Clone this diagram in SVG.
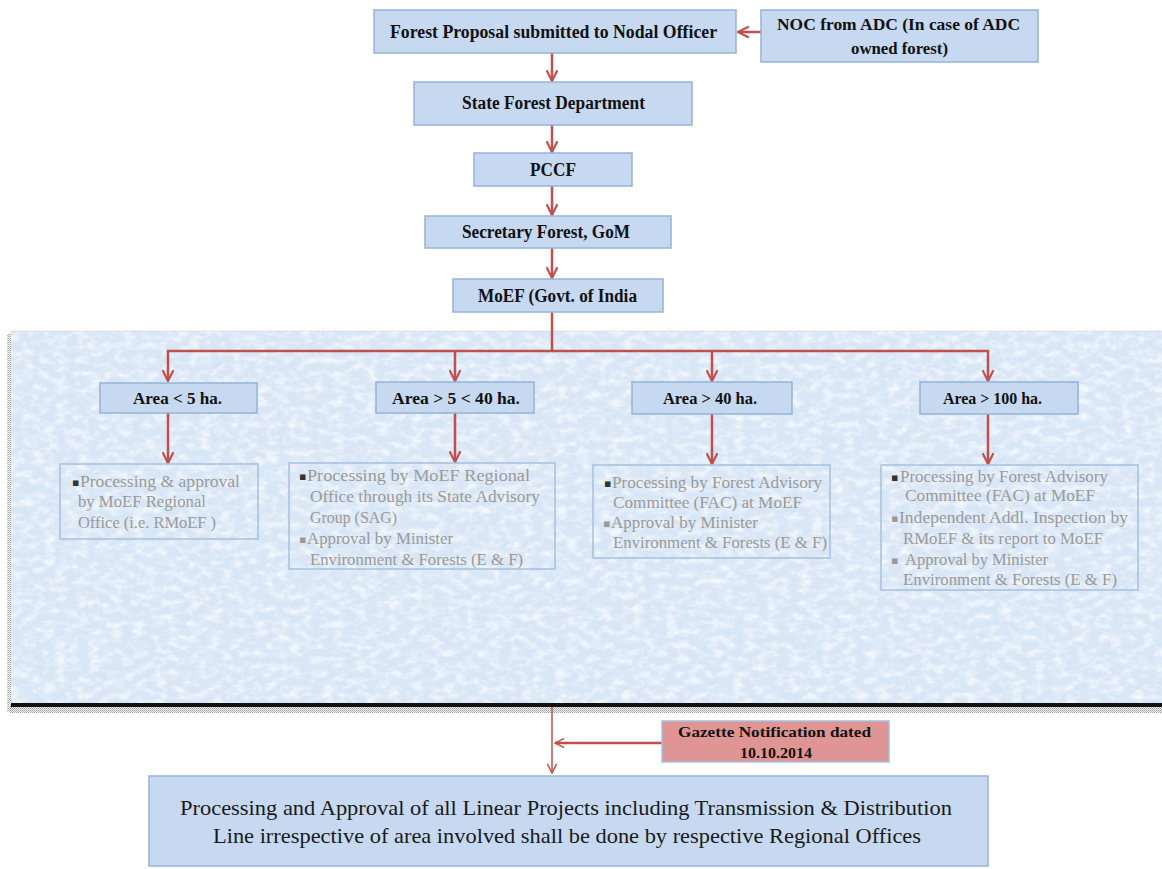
<svg xmlns="http://www.w3.org/2000/svg" width="1162" height="869" viewBox="0 0 1162 869">
<style>
.box{fill:#c6d9f1;stroke:#95b3d7;stroke-width:1.5}
.cbox{fill:none;stroke:#a7c0de;stroke-width:1.5}
.hd{font-family:"Liberation Serif","Times New Roman",serif;font-weight:bold;fill:#111;text-anchor:start}
.ct{font-family:"Liberation Serif","Times New Roman",serif;font-size:17px;fill:#9a9a9a}
.bl{font-family:"DejaVu Sans",sans-serif;font-size:11px;fill:#9a9a9a}
.bl1{fill:#333}
.ln{fill:none;stroke:#c0504d;stroke-width:2.5}
.lnt{fill:none;stroke:#c0504d;stroke-width:1.5}
.ft{font-family:"Liberation Serif","Times New Roman",serif;font-size:21px;fill:#1a1a1a}
</style>
<defs>
<marker id="ah" viewBox="0 0 12 12" refX="11" refY="6" markerWidth="13" markerHeight="13" orient="auto" markerUnits="userSpaceOnUse">
<path d="M1,1 L11,6 L1,11" fill="none" stroke="#c0504d" stroke-width="2"/>
</marker>
<marker id="ahs" viewBox="0 0 12 12" refX="11" refY="6" markerWidth="11" markerHeight="11" orient="auto" markerUnits="userSpaceOnUse">
<path d="M1,1 L11,6 L1,11" fill="none" stroke="#c0504d" stroke-width="1.6"/>
</marker>
<filter id="tex" x="0" y="0" width="100%" height="100%">
<feTurbulence type="fractalNoise" baseFrequency="0.09 0.14" numOctaves="3" seed="11"/>
<feColorMatrix type="matrix" values="0 0 0 0 1  0 0 0 0 1  0 0 0 0 1  2.2 0 0 0 -0.9"/>
</filter>
<pattern id="dots" width="2" height="2" patternUnits="userSpaceOnUse">
<rect width="1" height="1" fill="#777"/><rect x="1" y="1" width="1" height="1" fill="#999"/>
</pattern>
</defs>
<rect width="1162" height="869" fill="#ffffff"/>

<g id="panel">
<rect x="7" y="334" width="5" height="378" fill="url(#dots)" opacity="0.7"/>
<rect x="10" y="706" width="1152" height="7" fill="url(#dots)" opacity="0.8"/>
<rect x="11" y="331" width="1151" height="373" fill="#d8e6f6"/>
<rect x="11" y="331" width="1151" height="373" fill="#fff" filter="url(#tex)" opacity="0.75"/>
<line x1="11" y1="331" x2="1162" y2="331" stroke="#c9d3de" stroke-width="1" stroke-dasharray="1 1"/>
<line x1="11" y1="705" x2="1162" y2="705" stroke="#111" stroke-width="4"/>
</g>

<g id="connectors">
<line class="ln" x1="761" y1="32" x2="738" y2="32" marker-end="url(#ah)"/>
<line class="ln" x1="552" y1="53" x2="552" y2="81" marker-end="url(#ah)"/>
<line class="ln" x1="552" y1="125" x2="552" y2="152" marker-end="url(#ah)"/>
<line class="ln" x1="552" y1="186" x2="552" y2="215" marker-end="url(#ah)"/>
<line class="ln" x1="552" y1="248" x2="552" y2="278" marker-end="url(#ah)"/>
<polyline class="ln" points="552,312 552,351 168,351 168,381" marker-end="url(#ah)"/>
<polyline class="ln" points="552,351 988,351 988,381" marker-end="url(#ah)"/>
<line class="ln" x1="455" y1="351" x2="455" y2="381" marker-end="url(#ah)"/>
<line class="ln" x1="712" y1="351" x2="712" y2="381" marker-end="url(#ah)"/>
<line class="ln" x1="168" y1="413" x2="168" y2="463" marker-end="url(#ah)"/>
<line class="ln" x1="455" y1="413" x2="455" y2="462" marker-end="url(#ah)"/>
<line class="ln" x1="712" y1="414" x2="712" y2="464" marker-end="url(#ah)"/>
<line class="ln" x1="988" y1="414" x2="988" y2="464" marker-end="url(#ah)"/>
<line class="lnt" x1="552" y1="707" x2="552" y2="773" marker-end="url(#ahs)"/>
<line class="ln" x1="662" y1="743" x2="555" y2="743" marker-end="url(#ahs)"/>
</g>

<g id="n-forest-proposal">
<rect class="box" x="374" y="10" width="362" height="43"/>
<text class="hd" x="390" y="38" font-size="18" textLength="327" lengthAdjust="spacingAndGlyphs">Forest Proposal submitted  to Nodal Officer</text>
</g>
<g id="n-noc">
<rect class="box" x="761" y="10" width="277" height="52"/>
<text class="hd" x="777" y="30" font-size="17" textLength="243" lengthAdjust="spacingAndGlyphs">NOC from ADC  (In case of ADC</text>
<text class="hd" x="851" y="54" font-size="17" textLength="97" lengthAdjust="spacingAndGlyphs">owned forest)</text>
</g>
<g id="n-state">
<rect class="box" x="414" y="82" width="278" height="43"/>
<text class="hd" x="462" y="109" font-size="18" textLength="183" lengthAdjust="spacingAndGlyphs">State Forest Department</text>
</g>
<g id="n-pccf">
<rect class="box" x="474" y="153" width="158" height="33"/>
<text class="hd" x="530" y="176" font-size="18" textLength="46" lengthAdjust="spacingAndGlyphs">PCCF</text>
</g>
<g id="n-secretary">
<rect class="box" x="425" y="216" width="246" height="32"/>
<text class="hd" x="462" y="238" font-size="18" textLength="168" lengthAdjust="spacingAndGlyphs">Secretary Forest, GoM</text>
</g>
<g id="n-moef">
<rect class="box" x="453" y="279" width="210" height="33"/>
<text class="hd" x="478" y="302" font-size="18" textLength="159" lengthAdjust="spacingAndGlyphs">MoEF (Govt. of India</text>
</g>

<g id="n-area1">
<rect class="box" x="100" y="383" width="157" height="30"/>
<text class="hd" x="133" y="404" font-size="16" textLength="89" lengthAdjust="spacingAndGlyphs">Area &lt; 5 ha.</text>
</g>
<g id="n-area2">
<rect class="box" x="376" y="382" width="158" height="31"/>
<text class="hd" x="392" y="404" font-size="16" textLength="128" lengthAdjust="spacingAndGlyphs">Area &gt; 5 &lt; 40 ha.</text>
</g>
<g id="n-area3">
<rect class="box" x="632" y="382" width="160" height="32"/>
<text class="hd" x="663" y="404" font-size="16" textLength="94" lengthAdjust="spacingAndGlyphs">Area &gt; 40 ha.</text>
</g>
<g id="n-area4">
<rect class="box" x="920" y="382" width="158" height="32"/>
<text class="hd" x="943" y="404" font-size="16" textLength="99" lengthAdjust="spacingAndGlyphs">Area &gt; 100 ha.</text>
</g>

<g id="n-content1">
<rect class="cbox" x="60" y="464" width="198" height="75"/>
<text class="bl bl1" x="72" y="486">▪</text>
<text class="ct" x="80" y="487" textLength="160" lengthAdjust="spacingAndGlyphs">Processing  &amp; approval</text>
<text class="ct" x="78" y="507" textLength="128" lengthAdjust="spacingAndGlyphs">by MoEF Regional</text>
<text class="ct" x="78" y="528" textLength="138" lengthAdjust="spacingAndGlyphs">Office (i.e. RMoEF )</text>
</g>
<g id="n-content2">
<rect class="cbox" x="289" y="463" width="266" height="106"/>
<text class="bl bl1" x="299" y="480">▪</text>
<text class="ct" x="307" y="481" textLength="223" lengthAdjust="spacingAndGlyphs">Processing  by MoEF  Regional</text>
<text class="ct" x="310" y="502" textLength="230" lengthAdjust="spacingAndGlyphs">Office  through  its State Advisory</text>
<text class="ct" x="310" y="523" textLength="87" lengthAdjust="spacingAndGlyphs">Group (SAG)</text>
<text class="bl" x="299" y="543">▪</text>
<text class="ct" x="307" y="544" textLength="146" lengthAdjust="spacingAndGlyphs">Approval by Minister</text>
<text class="ct" x="310" y="565" textLength="213" lengthAdjust="spacingAndGlyphs">Environment &amp; Forests (E &amp; F)</text>
</g>
<g id="n-content3">
<rect class="cbox" x="593" y="465" width="237" height="93"/>
<text class="bl bl1" x="604" y="487">▪</text>
<text class="ct" x="612" y="488" textLength="210" lengthAdjust="spacingAndGlyphs">Processing  by Forest Advisory</text>
<text class="ct" x="613" y="508" textLength="189" lengthAdjust="spacingAndGlyphs">Committee (FAC) at MoEF</text>
<text class="bl" x="603" y="527">▪</text>
<text class="ct" x="611" y="528" textLength="147" lengthAdjust="spacingAndGlyphs">Approval by Minister</text>
<text class="ct" x="613" y="548" textLength="214" lengthAdjust="spacingAndGlyphs">Environment &amp; Forests (E &amp; F)</text>
</g>
<g id="n-content4">
<rect class="cbox" x="881" y="465" width="257" height="125"/>
<text class="bl bl1" x="891" y="481">▪</text>
<text class="ct" x="900" y="482" textLength="208" lengthAdjust="spacingAndGlyphs">Processing  by Forest Advisory</text>
<text class="ct" x="905" y="501" textLength="190" lengthAdjust="spacingAndGlyphs">Committee (FAC) at MoEF</text>
<text class="bl" x="891" y="522">▪</text>
<text class="ct" x="899" y="523" textLength="229" lengthAdjust="spacingAndGlyphs">Independent Addl. Inspection by</text>
<text class="ct" x="903" y="544" textLength="200" lengthAdjust="spacingAndGlyphs">RMoEF &amp; its report to MoEF</text>
<text class="bl" x="891" y="564">▪</text>
<text class="ct" x="905" y="565" textLength="143" lengthAdjust="spacingAndGlyphs">Approval by Minister</text>
<text class="ct" x="903" y="585" textLength="214" lengthAdjust="spacingAndGlyphs">Environment &amp; Forests (E &amp; F)</text>
</g>

<g id="n-gazette">
<rect x="662" y="721" width="227" height="41" fill="#de9594" stroke="#a7c0de" stroke-width="1.5"/>
<text class="hd" x="678" y="737" font-size="15" textLength="193" lengthAdjust="spacingAndGlyphs">Gazette Notification dated</text>
<text class="hd" x="740" y="758" font-size="15" textLength="72" lengthAdjust="spacingAndGlyphs">10.10.2014</text>
</g>

<g id="n-final">
<rect class="box" x="149" y="776" width="839" height="90"/>
<text class="ft" x="180" y="815" textLength="772" lengthAdjust="spacingAndGlyphs">Processing  and Approval of all Linear Projects including Transmission  &amp; Distribution</text>
<text class="ft" x="213" y="843" textLength="708" lengthAdjust="spacingAndGlyphs">Line irrespective of  area involved shall be done by respective Regional Offices</text>
</g>
</svg>
